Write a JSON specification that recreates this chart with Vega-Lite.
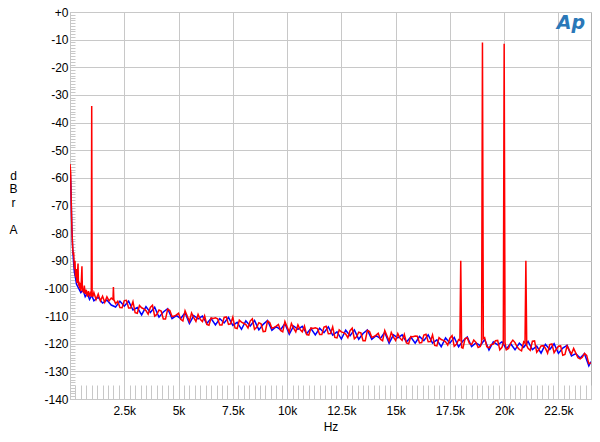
{
"$schema": "https://vega.github.io/schema/vega-lite/v6.json",
"width": 521, "height": 387,
"autosize": {"type": "none"},
"padding": {"left": 70, "top": 12, "right": 9, "bottom": 43},
"background": "white",
"config": {"view": {"stroke": "#b4b4b4", "strokeWidth": 1}, "font": "Liberation Sans"},
"datasets": {
"red": [{"f":0,"v":-55},{"f":30,"v":-58},{"f":50,"v":-66},{"f":70,"v":-73},{"f":90,"v":-79},{"f":110,"v":-83},{"f":130,"v":-86},{"f":150,"v":-88},{"f":170,"v":-87},{"f":190,"v":-91},{"f":210,"v":-93},{"f":230,"v":-90},{"f":250,"v":-95},{"f":270,"v":-96},{"f":290,"v":-93},{"f":310,"v":-97},{"f":330,"v":-98},{"f":350,"v":-94},{"f":370,"v":-91},{"f":390,"v":-99},{"f":410,"v":-97.5},{"f":440,"v":-100},{"f":470,"v":-98},{"f":500,"v":-101},{"f":530,"v":-96},{"f":550,"v":-92},{"f":570,"v":-100},{"f":620,"v":-101.5},{"f":660,"v":-99},{"f":700,"v":-102},{"f":750,"v":-100.5},{"f":800,"v":-103},{"f":850,"v":-101},{"f":900,"v":-102.5},{"f":950,"v":-101.5},{"f":980,"v":-103},{"f":1000,"v":-34},{"f":1020,"v":-101.5},{"f":1050,"v":-103},{"f":1100,"v":-101.5},{"f":1200,"v":-104},{"f":1300,"v":-102},{"f":1400,"v":-104.5},{"f":1500,"v":-102.8},{"f":1600,"v":-105},{"f":1700,"v":-103},{"f":1800,"v":-104.5},{"f":1900,"v":-103.5},{"f":1980,"v":-104},{"f":2000,"v":-99.5},{"f":2020,"v":-104},{"f":2100,"v":-105.5},{"f":2200,"v":-104.6},{"f":2400,"v":-107.0},{"f":2600,"v":-104.3},{"f":2800,"v":-107.1},{"f":3000,"v":-108.8},{"f":3200,"v":-106.2},{"f":3400,"v":-107.4},{"f":3600,"v":-109.3},{"f":3800,"v":-106.1},{"f":4000,"v":-109.4},{"f":4200,"v":-108.2},{"f":4400,"v":-111.1},{"f":4600,"v":-108.0},{"f":4800,"v":-110.0},{"f":5000,"v":-109.0},{"f":5200,"v":-111.8},{"f":5400,"v":-110.0},{"f":5600,"v":-108.9},{"f":5800,"v":-111.9},{"f":6000,"v":-111.2},{"f":6200,"v":-109.9},{"f":6400,"v":-113.3},{"f":6600,"v":-110.9},{"f":6800,"v":-111.0},{"f":7000,"v":-113.2},{"f":7200,"v":-110.3},{"f":7400,"v":-112.8},{"f":7600,"v":-114.3},{"f":7800,"v":-111.5},{"f":8000,"v":-112.6},{"f":8200,"v":-114.3},{"f":8400,"v":-111.0},{"f":8600,"v":-114.1},{"f":8800,"v":-112.8},{"f":9000,"v":-115.5},{"f":9200,"v":-112.3},{"f":9400,"v":-114.1},{"f":9600,"v":-113.0},{"f":9800,"v":-115.7},{"f":10000,"v":-113.9},{"f":10200,"v":-112.7},{"f":10400,"v":-115.7},{"f":10600,"v":-114.9},{"f":10800,"v":-113.6},{"f":11000,"v":-116.9},{"f":11200,"v":-114.5},{"f":11400,"v":-114.5},{"f":11600,"v":-116.7},{"f":11800,"v":-113.7},{"f":12000,"v":-116.3},{"f":12200,"v":-117.7},{"f":12400,"v":-115.0},{"f":12600,"v":-116.0},{"f":12800,"v":-117.8},{"f":13000,"v":-114.4},{"f":13200,"v":-117.5},{"f":13400,"v":-116.1},{"f":13600,"v":-118.9},{"f":13800,"v":-115.6},{"f":14000,"v":-117.4},{"f":14200,"v":-116.2},{"f":14400,"v":-118.9},{"f":14600,"v":-117.1},{"f":14800,"v":-115.9},{"f":15000,"v":-118.8},{"f":15200,"v":-118.0},{"f":15400,"v":-116.6},{"f":15600,"v":-120.0},{"f":15800,"v":-117.5},{"f":16000,"v":-117.3},{"f":16200,"v":-119.6},{"f":16400,"v":-116.6},{"f":16600,"v":-119.2},{"f":16800,"v":-120.6},{"f":17000,"v":-117.8},{"f":17200,"v":-118.8},{"f":17400,"v":-120.5},{"f":17600,"v":-117.1},{"f":17800,"v":-120.2},{"f":17960,"v":-118.8},{"f":18000,"v":-90},{"f":18040,"v":-121.4},{"f":18200,"v":-118.1},{"f":18400,"v":-119.9},{"f":18600,"v":-118.7},{"f":18800,"v":-121.4},{"f":18960,"v":-119.5},{"f":19000,"v":-11},{"f":19040,"v":-118.2},{"f":19200,"v":-121.1},{"f":19400,"v":-120.3},{"f":19600,"v":-118.9},{"f":19800,"v":-122.2},{"f":19960,"v":-119.7},{"f":20000,"v":-11.5},{"f":20040,"v":-119.6},{"f":20200,"v":-121.7},{"f":20400,"v":-118.7},{"f":20600,"v":-121.2},{"f":20800,"v":-122.6},{"f":20960,"v":-119.8},{"f":21000,"v":-90},{"f":21040,"v":-120.7},{"f":21200,"v":-122.4},{"f":21400,"v":-119.0},{"f":21600,"v":-122.1},{"f":21800,"v":-120.7},{"f":22000,"v":-123.4},{"f":22200,"v":-120.1},{"f":22400,"v":-122.0},{"f":22600,"v":-120.8},{"f":22800,"v":-123.9},{"f":23000,"v":-122.4},{"f":23200,"v":-121.7},{"f":23400,"v":-125.1},{"f":23600,"v":-124.9},{"f":23800,"v":-124.2},{"f":24000,"v":-127.0},
{"f":2300,"v":-106.9},{"f":2500,"v":-104.4},{"f":2700,"v":-107.1},{"f":2900,"v":-104.8},{"f":3100,"v":-109.0},{"f":3300,"v":-107.0},{"f":3500,"v":-108.0},{"f":3700,"v":-106.9},{"f":3900,"v":-110.0},{"f":4100,"v":-107.8},{"f":4300,"v":-111.1},{"f":4500,"v":-107.5},{"f":4700,"v":-110.2},{"f":4900,"v":-109.6},{"f":5100,"v":-111.2},{"f":5300,"v":-108.1},{"f":5500,"v":-111.9},{"f":5700,"v":-110.6},{"f":5900,"v":-109.4},{"f":6100,"v":-112.0},{"f":6300,"v":-113.0},{"f":6500,"v":-110.7},{"f":6700,"v":-110.6},{"f":6900,"v":-113.2},{"f":7100,"v":-110.5},{"f":7300,"v":-113.0},{"f":7500,"v":-110.4},{"f":7700,"v":-114.5},{"f":7900,"v":-112.2},{"f":8100,"v":-113.1},{"f":8300,"v":-111.8},{"f":8500,"v":-114.8},{"f":8700,"v":-112.4},{"f":8900,"v":-115.6},{"f":9100,"v":-111.8},{"f":9300,"v":-114.4},{"f":9500,"v":-113.6},{"f":9700,"v":-115.2},{"f":9900,"v":-112.0},{"f":10100,"v":-115.8},{"f":10300,"v":-114.4},{"f":10500,"v":-113.2},{"f":10700,"v":-115.7},{"f":10900,"v":-116.7},{"f":11100,"v":-114.3},{"f":11300,"v":-114.2},{"f":11500,"v":-116.7},{"f":11700,"v":-114.0},{"f":11900,"v":-116.4},{"f":12100,"v":-113.9},{"f":12300,"v":-117.9},{"f":12500,"v":-115.7},{"f":12700,"v":-116.5},{"f":12900,"v":-115.3},{"f":13100,"v":-118.2},{"f":13300,"v":-115.8},{"f":13500,"v":-118.9},{"f":13700,"v":-115.2},{"f":13900,"v":-117.7},{"f":14100,"v":-116.9},{"f":14300,"v":-118.4},{"f":14500,"v":-115.2},{"f":14700,"v":-119.0},{"f":14900,"v":-117.6},{"f":15100,"v":-116.3},{"f":15300,"v":-118.8},{"f":15500,"v":-119.7},{"f":15700,"v":-117.4},{"f":15900,"v":-117.2},{"f":16100,"v":-119.7},{"f":16300,"v":-116.9},{"f":16500,"v":-119.3},{"f":16700,"v":-116.8},{"f":16900,"v":-120.8},{"f":17100,"v":-118.5},{"f":17300,"v":-119.3},{"f":17500,"v":-118.0},{"f":17700,"v":-120.9},{"f":17900,"v":-118.5},{"f":18100,"v":-121.6},{"f":18300,"v":-117.8},{"f":18500,"v":-120.3},{"f":18700,"v":-119.5},{"f":18900,"v":-121.0},{"f":19100,"v":-117.8},{"f":19300,"v":-121.5},{"f":19500,"v":-120.1},{"f":19700,"v":-118.8},{"f":19900,"v":-121.3},{"f":20100,"v":-122.2},{"f":20300,"v":-119.8},{"f":20500,"v":-119.6},{"f":20700,"v":-122.1},{"f":20900,"v":-119.3},{"f":21100,"v":-121.7},{"f":21300,"v":-119.1},{"f":21500,"v":-123.1},{"f":21700,"v":-120.8},{"f":21900,"v":-121.6},{"f":22100,"v":-120.3},{"f":22300,"v":-123.2},{"f":22500,"v":-120.9},{"f":22700,"v":-124.2},{"f":22900,"v":-120.8},{"f":23100,"v":-123.7},{"f":23300,"v":-123.4},{"f":23500,"v":-125.5},{"f":23700,"v":-123.5},{"f":23900,"v":-127.2}],
"blue": [{"f":0,"v":-56},{"f":40,"v":-63},{"f":80,"v":-77},{"f":120,"v":-85},{"f":160,"v":-90},{"f":200,"v":-94},{"f":250,"v":-96},{"f":300,"v":-98.5},{"f":400,"v":-100},{"f":500,"v":-101.5},{"f":600,"v":-100.5},{"f":700,"v":-103},{"f":800,"v":-101.8},{"f":900,"v":-104},{"f":1000,"v":-102.5},{"f":1100,"v":-104.5},{"f":1300,"v":-103.2},{"f":1500,"v":-105.3},{"f":1700,"v":-104.2},{"f":1900,"v":-106},{"f":2100,"v":-106.7},{"f":2300,"v":-104.6},{"f":2500,"v":-106.4},{"f":2700,"v":-104.6},{"f":2900,"v":-107.8},{"f":3100,"v":-106.9},{"f":3300,"v":-109.6},{"f":3500,"v":-106.6},{"f":3700,"v":-108.7},{"f":3900,"v":-106.8},{"f":4100,"v":-110.4},{"f":4300,"v":-108.5},{"f":4500,"v":-107.3},{"f":4700,"v":-110.9},{"f":4900,"v":-109.8},{"f":5100,"v":-110.9},{"f":5300,"v":-108.8},{"f":5500,"v":-112.7},{"f":5700,"v":-109.8},{"f":5900,"v":-111.0},{"f":6100,"v":-110.0},{"f":6300,"v":-112.7},{"f":6500,"v":-110.9},{"f":6700,"v":-113.2},{"f":6900,"v":-110.9},{"f":7100,"v":-112.5},{"f":7300,"v":-110.5},{"f":7500,"v":-113.4},{"f":7700,"v":-112.3},{"f":7900,"v":-114.8},{"f":8100,"v":-111.7},{"f":8300,"v":-113.6},{"f":8500,"v":-111.6},{"f":8700,"v":-115.0},{"f":8900,"v":-113.0},{"f":9100,"v":-111.6},{"f":9300,"v":-115.1},{"f":9500,"v":-113.8},{"f":9700,"v":-114.9},{"f":9900,"v":-112.7},{"f":10100,"v":-116.6},{"f":10300,"v":-113.6},{"f":10500,"v":-114.8},{"f":10700,"v":-113.7},{"f":10900,"v":-116.4},{"f":11100,"v":-114.5},{"f":11300,"v":-116.8},{"f":11500,"v":-114.4},{"f":11700,"v":-116.0},{"f":11900,"v":-113.9},{"f":12100,"v":-116.9},{"f":12300,"v":-115.7},{"f":12500,"v":-118.3},{"f":12700,"v":-115.1},{"f":12900,"v":-117.1},{"f":13100,"v":-115.0},{"f":13300,"v":-118.4},{"f":13500,"v":-116.3},{"f":13700,"v":-115.0},{"f":13900,"v":-118.4},{"f":14100,"v":-117.1},{"f":14300,"v":-118.1},{"f":14500,"v":-115.9},{"f":14700,"v":-119.8},{"f":14900,"v":-116.8},{"f":15100,"v":-117.9},{"f":15300,"v":-116.8},{"f":15500,"v":-119.4},{"f":15700,"v":-117.6},{"f":15900,"v":-119.8},{"f":16100,"v":-117.4},{"f":16300,"v":-118.9},{"f":16500,"v":-116.8},{"f":16700,"v":-119.8},{"f":16900,"v":-118.6},{"f":17100,"v":-121.1},{"f":17300,"v":-117.9},{"f":17500,"v":-119.8},{"f":17700,"v":-117.7},{"f":17900,"v":-121.1},{"f":18100,"v":-119.0},{"f":18300,"v":-117.6},{"f":18500,"v":-121.0},{"f":18700,"v":-119.7},{"f":18900,"v":-120.7},{"f":19100,"v":-118.5},{"f":19300,"v":-122.3},{"f":19500,"v":-119.3},{"f":19700,"v":-120.4},{"f":19900,"v":-119.3},{"f":20100,"v":-121.9},{"f":20300,"v":-120.0},{"f":20500,"v":-122.2},{"f":20700,"v":-119.8},{"f":20900,"v":-121.3},{"f":21100,"v":-119.2},{"f":21300,"v":-122.1},{"f":21500,"v":-120.9},{"f":21700,"v":-123.4},{"f":21900,"v":-120.2},{"f":22100,"v":-122.1},{"f":22300,"v":-120.0},{"f":22500,"v":-123.5},{"f":22700,"v":-121.6},{"f":22900,"v":-120.6},{"f":23100,"v":-124.4},{"f":23300,"v":-123.6},{"f":23500,"v":-125.2},{"f":23700,"v":-123.6},{"f":23900,"v":-128.0},{"f":24000,"v":-126.5}],
"logo": [{"t":"Ap"}]
},
"layer": [
{"data": {"name": "blue"},
 "mark": {"type": "line", "color": "#0000ff", "strokeWidth": 1.5, "clip": true},
 "encoding": {
  "x": {"field": "f", "type": "quantitative",
   "scale": {"domain": [0, 24000], "nice": false, "zero": false},
   "axis": {"title": "Hz", "tickCount": 1000, "values": [0,250,500,750,1000,1250,1500,1750,2000,2250,2500,2750,3000,3250,3500,3750,4000,4250,4500,4750,5000,5250,5500,5750,6000,6250,6500,6750,7000,7250,7500,7750,8000,8250,8500,8750,9000,9250,9500,9750,10000,10250,10500,10750,11000,11250,11500,11750,12000,12250,12500,12750,13000,13250,13500,13750,14000,14250,14500,14750,15000,15250,15500,15750,16000,16250,16500,16750,17000,17250,17500,17750,18000,18250,18500,18750,19000,19250,19500,19750,20000,20250,20500,20750,21000,21250,21500,21750,22000,22250,22500,22750,23000,23250,23500,23750,24000],
    "labelExpr": "datum.value % 2500 === 0 && datum.value > 0 && datum.value < 24000 ? (datum.value / 1000) + 'k' : ''",
    "labelOverlap": false, "labelFlush": false, "labelPadding": 20, "labelFontSize": 12, "labelColor": "#000000",
    "tickSize": -14, "tickColor": "#c8c8c8", "tickWidth": 1,
    "grid": true, "gridColor": "#c8c8c8", "gridWidth": 1,
    "gridOpacity": {"condition": {"test": "datum.value % 2500 === 0", "value": 1}, "value": 0},
    "domain": false, "titleFontSize": 12, "titleFontWeight": "normal", "titleColor": "#000000", "titlePadding": 5}},
  "y": {"field": "v", "type": "quantitative",
   "scale": {"domain": [-140, 0], "nice": false, "zero": false},
   "axis": {"title": ["d", "B", "r", "\u200b", "A"], "tickCount": 1000, "values": [-140,-139,-138,-137,-136,-135,-134,-133,-132,-131,-130,-129,-128,-127,-126,-125,-124,-123,-122,-121,-120,-119,-118,-117,-116,-115,-114,-113,-112,-111,-110,-109,-108,-107,-106,-105,-104,-103,-102,-101,-100,-99,-98,-97,-96,-95,-94,-93,-92,-91,-90,-89,-88,-87,-86,-85,-84,-83,-82,-81,-80,-79,-78,-77,-76,-75,-74,-73,-72,-71,-70,-69,-68,-67,-66,-65,-64,-63,-62,-61,-60,-59,-58,-57,-56,-55,-54,-53,-52,-51,-50,-49,-48,-47,-46,-45,-44,-43,-42,-41,-40,-39,-38,-37,-36,-35,-34,-33,-32,-31,-30,-29,-28,-27,-26,-25,-24,-23,-22,-21,-20,-19,-18,-17,-16,-15,-14,-13,-12,-11,-10,-9,-8,-7,-6,-5,-4,-3,-2,-1,0],
    "labelExpr": "datum.value % 10 === 0 ? (datum.value === 0 ? '+0' : '' + datum.value) : ''",
    "labelOverlap": false, "labelFlush": false, "labelPadding": 7, "labelFontSize": 12, "labelColor": "#000000",
    "tickSize": -5, "tickColor": "#c8c8c8", "tickWidth": 1,
    "grid": true, "gridColor": "#c8c8c8", "gridWidth": 1,
    "gridOpacity": {"condition": {"test": "datum.value % 10 === 0", "value": 1}, "value": 0},
    "domain": false, "titleAngle": 0, "titleAlign": "center", "titleBaseline": "top",
    "titleX": -57, "titleY": 158, "titleLineHeight": 13.7,
    "titleFontSize": 12, "titleFontWeight": "normal", "titleColor": "#000000"}}
 }},
{"data": {"name": "red"},
 "mark": {"type": "line", "color": "#ff0000", "strokeWidth": 1.5, "clip": true},
 "encoding": {
  "x": {"field": "f", "type": "quantitative"},
  "y": {"field": "v", "type": "quantitative"}
 }},
{"data": {"name": "logo"},
 "mark": {"type": "text", "font": "DejaVu Sans", "fontStyle": "italic", "fontWeight": "bold", "fontSize": 19, "color": "#2a78b8", "align": "center", "baseline": "middle"},
 "encoding": {
  "x": {"datum": 23080, "type": "quantitative"},
  "y": {"datum": -4, "type": "quantitative"},
  "text": {"field": "t", "type": "nominal"}
 }}
]
}
